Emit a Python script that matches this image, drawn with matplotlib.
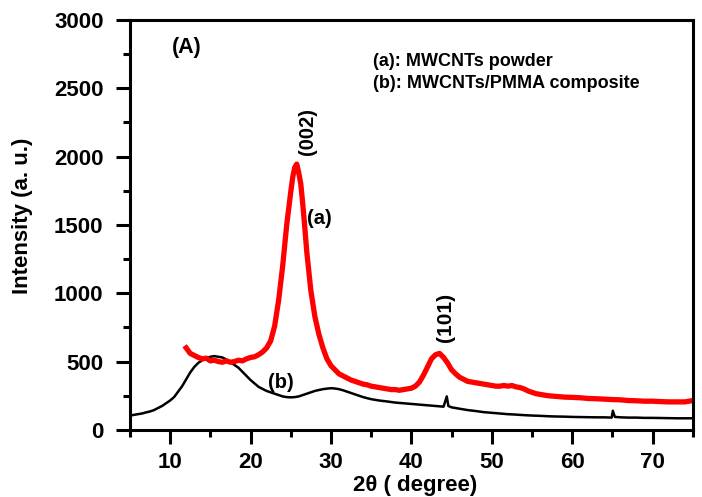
import matplotlib
matplotlib.use("Agg")
import matplotlib.pyplot as plt
from matplotlib.ticker import MultipleLocator

plt.rcParams['font.family'] = ['Liberation Sans', 'DejaVu Sans']
plt.rcParams['font.weight'] = 'bold'

# (a) MWCNTs powder
powder_x = [12.0, 12.5, 13.0, 13.5, 14.0, 14.5, 15.0, 15.5, 16.0, 16.5, 17.0, 17.5,
            18.0, 18.5, 19.0, 19.5, 20.0, 20.5, 21.0, 21.5, 22.0, 22.5, 23.0, 23.5,
            24.0, 24.5, 25.0, 25.25, 25.5, 25.75, 26.0, 26.25, 26.5, 26.75, 27.0,
            27.5, 28.0, 28.5, 29.0, 29.5, 30.0, 30.5, 31.0, 31.5, 32.0, 32.5, 33.0,
            33.5, 34.0, 34.5, 35.0, 35.5, 36.0, 36.5, 37.0, 37.5, 38.0, 38.5, 39.0,
            39.5, 40.0, 40.5, 41.0, 41.5, 42.0, 42.5, 43.0, 43.5, 44.0, 44.5, 45.0,
            45.5, 46.0, 46.5, 47.0, 47.5, 48.0, 48.5, 49.0, 49.5, 50.0, 50.5, 51.0,
            51.5, 52.0, 52.5, 53.0, 53.5, 54.0, 54.5, 55.0, 55.5, 56.0, 56.5, 57.0,
            58.0, 59.0, 60.0, 61.0, 62.0, 63.0, 64.0, 65.0, 66.0, 67.0, 68.0, 69.0,
            70.0, 71.0, 72.0, 73.0, 74.0, 75.0]
powder_y = [600, 560, 545, 530, 520, 525, 505, 510, 500, 495, 505, 495,
            500, 510, 505, 520, 530, 535, 550, 570, 600, 650, 760, 950,
            1200, 1500, 1740, 1850, 1920, 1945, 1880, 1800, 1650, 1480, 1300,
            1020, 830, 700, 600, 520, 470, 440, 410, 395, 380, 365, 355,
            345, 335, 330, 320, 315, 310, 305, 300, 295, 295, 290, 295,
            300, 305, 320, 350, 400, 460, 520, 550, 560, 530, 490, 440,
            410, 385, 370, 355, 350, 345, 340, 335, 330, 325, 320, 320,
            325, 320, 325, 315, 310, 300, 285, 275, 265, 260, 255, 250,
            245, 240, 238, 235, 230, 228, 225, 222, 220, 215, 213, 210,
            210, 207, 205, 205, 205, 215]

# (b) MWCNTs/PMMA composite
composite_x = [5.0, 5.5, 6.0, 6.5, 7.0, 7.5, 8.0, 8.5, 9.0, 9.5, 10.0, 10.5, 11.0,
               11.5, 12.0, 12.5, 13.0, 13.5, 14.0, 14.5, 15.0, 15.5, 16.0, 16.5,
               17.0, 17.5, 18.0, 18.5, 19.0, 19.5, 20.0, 20.5, 21.0, 21.5, 22.0,
               22.5, 23.0, 23.5, 24.0, 24.5, 25.0, 25.5, 26.0, 26.5, 27.0, 27.5,
               28.0, 28.5, 29.0, 29.5, 30.0, 30.5, 31.0, 31.5, 32.0, 32.5, 33.0,
               33.5, 34.0, 34.5, 35.0, 36.0, 37.0, 38.0, 39.0, 40.0, 41.0, 42.0,
               43.0, 44.0, 44.4, 44.6, 45.0, 46.0, 47.0, 48.0, 49.0, 50.0, 51.0,
               52.0, 53.0, 54.0, 55.0, 56.0, 57.0, 58.0, 59.0, 60.0, 61.0, 62.0,
               63.0, 64.0, 64.9, 65.05, 65.3, 66.0, 67.0, 68.0, 69.0, 70.0, 71.0,
               72.0, 73.0, 74.0, 75.0]
composite_y = [105, 110, 115, 120, 128, 135, 145, 160, 175, 195, 215, 240, 280,
               320, 370, 420, 460, 490, 510, 525, 535, 540, 535, 530,
               515, 495, 475, 455, 425, 395, 365, 340, 315, 300, 285,
               275, 265, 255, 245, 240, 238, 240, 245, 255, 265, 275,
               285, 292, 298, 302, 305, 303, 298, 290, 280, 270, 260,
               250, 240, 232, 225, 215, 208, 200, 195, 190, 185, 180,
               175, 170, 245, 175, 165, 155, 145, 138, 130, 125, 120,
               115, 112, 108, 105, 103, 100, 98, 97, 95, 94, 93,
               92, 92, 90, 140, 95, 92, 90, 90, 88, 88, 87,
               86, 85, 85, 85]

fig = plt.figure(figsize=(7.02, 4.97), dpi=100)
ax = fig.add_axes([0.185, 0.135, 0.802, 0.825])

ax.plot(composite_x, composite_y, color='black', lw=1.8)
ax.plot(powder_x, powder_y, color='red', lw=3.8)

ax.set_xlim(5, 75)
ax.set_ylim(0, 3000)
ax.xaxis.set_major_locator(MultipleLocator(10))
ax.xaxis.set_minor_locator(MultipleLocator(5))
ax.yaxis.set_major_locator(MultipleLocator(500))
ax.yaxis.set_minor_locator(MultipleLocator(250))

for s in ax.spines.values():
    s.set_linewidth(2.2)
ax.tick_params(which='major', direction='out', length=10, width=2.2, labelsize=16)
ax.tick_params(which='minor', direction='out', length=5, width=2.2)
ax.tick_params(axis='x', which='major', pad=6)
ax.tick_params(axis='y', which='major', pad=9)

ax.set_xlabel('2θ ( degree)', fontsize=16, fontweight='bold')
ax.set_ylabel('Intensity (a. u.)', fontsize=16, fontweight='bold')
ax.xaxis.set_label_coords(0.506, -0.110)
ax.yaxis.set_label_coords(-0.172, 0.522)

ax.text(12.1, 2796, '(A)', fontsize=15.5, ha='center', va='center')
ax.text(35.2, 2694, '(a): MWCNTs powder', fontsize=13, ha='left', va='center')
ax.text(35.2, 2533, '(b): MWCNTs/PMMA composite', fontsize=13, ha='left', va='center')
ax.text(27.1, 2185, '(002)', fontsize=14.5, rotation=90, ha='center', va='center')
ax.text(28.5, 1545, '(a)', fontsize=14.5, ha='center', va='center')
ax.text(23.8, 344, '(b)', fontsize=14.5, ha='center', va='center')
ax.text(44.2, 820, '(101)', fontsize=15, rotation=90, ha='center', va='center')

fig.savefig('out.png', dpi=100)
